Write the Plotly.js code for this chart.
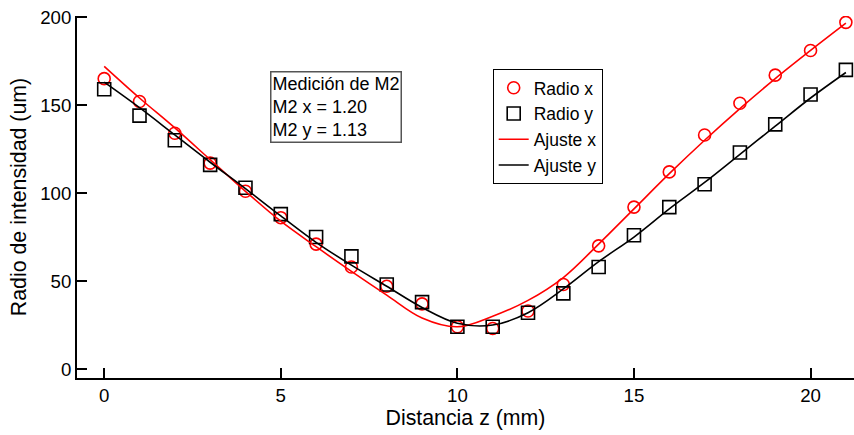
<!DOCTYPE html>
<html>
<head>
<meta charset="utf-8">
<script src="https://cdn.plot.ly/plotly-3.0.1.min.js"></script>
<style>html,body{margin:0;padding:0;background:#fff;}#chart{width:854px;height:435px;}</style>
</head>
<body>
<div id="chart"></div>
<script>
// Measured points
const z = [0,1,2,3,4,5,6,7,8,9,10,11,12,13,14,15,16,17,18,19,20,21];
const radioX = [165,152,134,117,101,86,71,58,47,37,24,23,33,48,70,92,112,133,151,167,181,197];
const radioY = [159,144,130,116,103,88,75,64,48,38,24,24,32,43,58,76,92,105,123,139,156,170];
// Fitted curves
const fitZ = [0,1,2,3,4,5,6,7,8,9,10,11,12,13,14,15,16,17,18,19,20,21];
const ajusteX = [172,154,137,119,101,84,69.5,55.5,42,29,24,30,39,52,71,91,111,130,148,165,181,196.5];
const ajusteY = [163,148.5,133,117.5,102.5,87,72,59,47,35,26,25,32,45.5,61,75,91,106,122,138,154,168.5];
const xTicks = [0,5,10,15,20];
const yTicks = [0,50,100,150,200];
const boxText = ["Medición de M2","M2 x = 1.20","M2 y = 1.13"];

const font = "Liberation Sans, Arial, sans-serif";
const fs = 18.67;

const traces = [
  {x: z, y: radioX, name: "Radio x", mode: "markers", type: "scatter",
   marker: {symbol: "circle-open", size: 12, color: "#ff0000", line: {width: 1.6, color: "#ff0000"}}},
  {x: z, y: radioY, name: "Radio y", mode: "markers", type: "scatter",
   marker: {symbol: "square-open", size: 13, color: "#000000", line: {width: 1.6, color: "#000000"}}},
  {x: fitZ, y: ajusteX, name: "Ajuste x", mode: "lines", type: "scatter",
   line: {color: "#ff0000", width: 1.6, shape: "spline", smoothing: 1}},
  {x: fitZ, y: ajusteY, name: "Ajuste y", mode: "lines", type: "scatter",
   line: {color: "#000000", width: 1.6, shape: "spline", smoothing: 1}}
];

const layout = {
  width: 854, height: 435,
  margin: {l: 77, r: 0, t: 16, b: 57, pad: 0},
  paper_bgcolor: "#ffffff", plot_bgcolor: "#ffffff",
  font: {family: font, size: fs, color: "#000"},
  showlegend: true,
  legend: {x: 0.535, y: 0.854, xanchor: "left", yanchor: "top",
           bordercolor: "#000", borderwidth: 1, bgcolor: "#fff",
           font: {family: font, size: 17.5}, tracegroupgap: 0, itemwidth: 30},
  xaxis: {range: [-0.77, 21.23], tickvals: xTicks, ticktext: xTicks.map(String),
          ticks: "inside", ticklen: 10, tickwidth: 2, tickcolor: "#000",
          showline: true, linecolor: "#000", linewidth: 2, showgrid: false, zeroline: false,
          tickfont: {family: font, size: fs}, mirror: false,
          title: {text: "Distancia z (mm)", font: {family: font, size: 21.33}, standoff: 2}},
  yaxis: {range: [-5.1, 200.6], tickvals: yTicks, ticktext: yTicks.map(String),
          ticks: "inside", ticklen: 10, tickwidth: 2, tickcolor: "#000",
          showline: true, linecolor: "#000", linewidth: 2, showgrid: false, zeroline: false,
          tickfont: {family: font, size: fs}, mirror: false,
          title: {text: "Radio de intensidad (um)", font: {family: font, size: 21.33}, standoff: 8}},
  annotations: [{
    xref: "paper", yref: "paper", x: 0.248, y: 0.848, xanchor: "left", yanchor: "top",
    text: boxText.join("<br>"), showarrow: false, align: "left",
    font: {family: font, size: 18, color: "#000"},
    bordercolor: "#555", borderwidth: 1.5, borderpad: 1, bgcolor: "#fff"
  }]
};

Plotly.newPlot("chart", traces, layout, {displayModeBar: false, staticPlot: true});
</script>
</body>
</html>
